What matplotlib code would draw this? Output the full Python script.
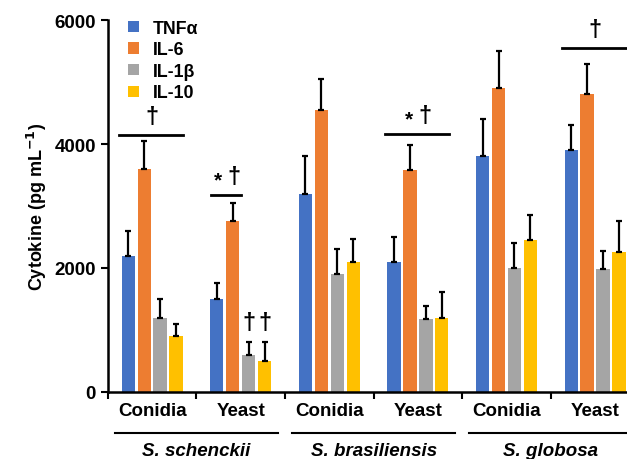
import numpy as np
import matplotlib.pyplot as plt
import matplotlib.transforms as mtransforms

plt.rcParams['font.family'] = ['Liberation Sans', 'DejaVu Sans']
plt.rcParams['font.weight'] = 'bold'

# data
groups = ["Conidia", "Yeast", "Conidia", "Yeast", "Conidia", "Yeast"]
species = ["S. schenckii", "S. brasiliensis", "S. globosa"]
cytokines = ["TNFα", "IL-6", "IL-1β", "IL-10"]

tnf = [2200, 1500, 3200, 2100, 3800, 3900]
il6 = [3600, 2750, 4550, 3580, 4900, 4800]
il1b = [1200, 600, 1900, 1170, 2000, 1980]
il10 = [900, 500, 2100, 1190, 2450, 2250]

tnf_err = [400, 250, 600, 400, 600, 400]
il6_err = [450, 300, 500, 400, 600, 500]
il1b_err = [300, 200, 400, 220, 400, 300]
il10_err = [200, 300, 370, 420, 400, 500]

# significance marks: (group, line start, line end, line height, star?, dagger?)
sig_groups = [(0, -0.37, 0.35, 4150, False, True),
              (1, -0.33, 0.0, 3180, True, True),
              (3, -0.37, 0.35, 4160, True, True),
              (5, -0.37, 0.5, 5550, False, True)]
# single-bar daggers: (group, series)
sig_bars = [(1, 2), (1, 3)]

colors = ["#4472C4", "#ED7D31", "#A5A5A5", "#FFC000"]
values = [tnf, il6, il1b, il10]
errors = [tnf_err, il6_err, il1b_err, il10_err]

fig = plt.figure(figsize=(6.27, 4.6), dpi=100)
ax = fig.add_axes([0.172, 0.146, 0.828, 0.808])

x = np.arange(len(groups))
pitch = 0.18
width = 0.15
for i, (vals, errs) in enumerate(zip(values, errors)):
    pos = x + (i - 1.5) * pitch
    ax.bar(pos, vals, width, color=colors[i], label=cytokines[i], zorder=2)
    ax.errorbar(pos, vals, yerr=[np.zeros(len(errs)), errs], fmt="none",
                ecolor="black", elinewidth=1.6, capsize=2.5, capthick=1.6, zorder=3)

# significance lines and symbols
for g, a, b, h, star, dag in sig_groups:
    ax.plot([g + a, g + b], [h, h], color="black", lw=2, clip_on=False)
    if star and dag:
        mid = g + (a + b) / 2
        ax.text(mid - 0.09, h + 90, "*", ha="center", va="bottom",
                fontsize=15, fontweight="bold", clip_on=False)
        ax.text(mid + 0.09, h + 110, "†", ha="center", va="bottom",
                fontsize=17, fontweight="bold", clip_on=False)
    else:
        ax.text(g, h + 110, "†", ha="center", va="bottom",
                fontsize=17, fontweight="bold", clip_on=False)
bar_tops = [values[s][g] + errors[s][g] for g, s in sig_bars]
for g, s in sig_bars:
    pos = g + (s - 1.5) * pitch
    ax.text(pos, max(bar_tops) + 130, "†", ha="center", va="bottom",
            fontsize=17, fontweight="bold")

ax.set_yticks([0, 2000, 4000, 6000])
ax.set_ylim(0, 6000)
ax.tick_params(axis="y", labelsize=13.5, width=1.5, length=5)
ax.set_ylabel("Cytokine (pg mL$^{-1}$)", fontsize=13, fontweight="bold", labelpad=4)

ax.set_xticks(np.arange(-0.5, len(groups), 1))
ax.set_xticklabels([])
ax.tick_params(axis="x", which="major", width=1.5, length=5)
ax.set_xticks(x, minor=True)
ax.set_xticklabels(groups, minor=True, fontsize=13.5, fontweight="bold")
ax.tick_params(axis="x", which="minor", length=0, pad=7)
ax.set_xlim(-0.5, 5.36)

for side in ["top", "right"]:
    ax.spines[side].set_visible(False)
for side in ["left", "bottom"]:
    ax.spines[side].set_linewidth(1.8)

# species lines and labels below the axis
trans = mtransforms.blended_transform_factory(ax.transData, ax.transAxes)
for k, name in enumerate(species):
    c = 2 * k + 0.5
    right = c + 0.92 if k < len(species) - 1 else c + 1.1
    ax.plot([max(c - 0.92, -0.48), right], [-0.111, -0.111], color="black", lw=1.5,
            transform=trans, clip_on=False)
    ax.text(c, -0.158, name, transform=trans, ha="center", va="center",
            fontsize=13.5, fontstyle="italic", fontweight="bold")

ax.legend(loc="upper left", bbox_to_anchor=(0.015, 1.035), frameon=False,
          fontsize=12.8, handlelength=0.6, handleheight=0.6, handletextpad=0.8,
          labelspacing=0.26, borderpad=0.2)

fig.savefig("out.png", dpi=100)
